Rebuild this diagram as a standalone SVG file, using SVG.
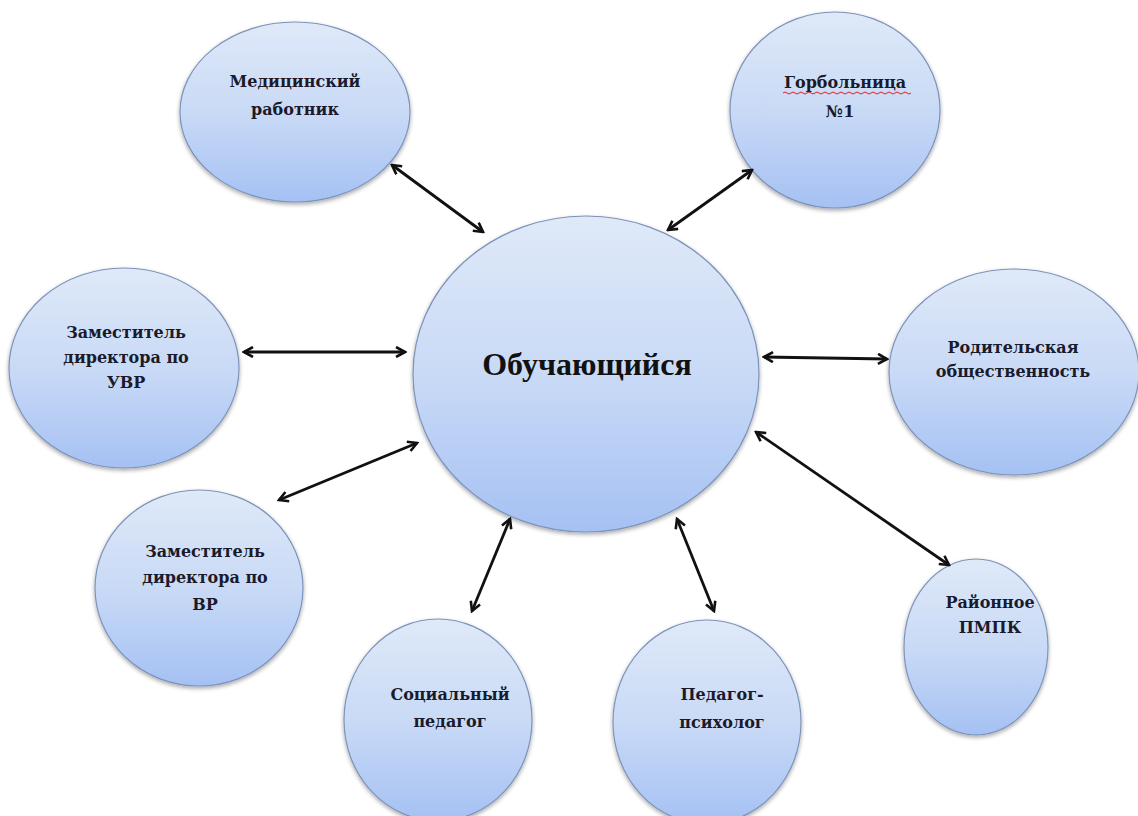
<svg xmlns="http://www.w3.org/2000/svg" width="1138" height="816" viewBox="0 0 1138 816">
<defs>
<linearGradient id="g" x1="0" y1="0" x2="0" y2="1">
<stop offset="0" stop-color="#dfe9f8"/>
<stop offset="0.5" stop-color="#c9daf6"/>
<stop offset="1" stop-color="#a5c1f3"/>
</linearGradient>
<filter id="sh" x="-10%" y="-10%" width="120%" height="125%">
<feGaussianBlur in="SourceAlpha" stdDeviation="2"/>
<feOffset dx="0" dy="2" result="b"/>
<feComponentTransfer><feFuncA type="linear" slope="0.35"/></feComponentTransfer>
<feMerge><feMergeNode/><feMergeNode in="SourceGraphic"/></feMerge>
</filter>
<marker id="ah" viewBox="0 0 12 12" refX="10" refY="6" markerWidth="12" markerHeight="12" markerUnits="userSpaceOnUse" orient="auto-start-reverse">
<path d="M1,1 L10,6 L1,11" fill="none" stroke="#111" stroke-width="2.6" stroke-linejoin="miter"/>
</marker>
</defs>
<style>
.n{fill:url(#g);stroke:#7d93bb;stroke-width:1.2;filter:url(#sh)}
.t{font-family:"DejaVu Serif","Liberation Serif",serif;font-weight:bold;font-size:16px;fill:#1a1a2a;text-anchor:middle}
.c{font-family:"Liberation Serif","Times New Roman",serif;font-weight:bold;font-size:32px;fill:#111;text-anchor:middle}
.a{stroke:#111;stroke-width:2.8;fill:none;marker-start:url(#ah);marker-end:url(#ah)}
</style>
<rect width="1138" height="816" fill="#fff"/>
<g id="n-med"><ellipse class="n" cx="295" cy="112" rx="115" ry="90"/>
<text class="t" x="295" y="87">Медицинский</text><text class="t" x="295" y="115">работник</text></g>
<g id="n-gor"><ellipse class="n" cx="835" cy="110" rx="105" ry="98"/>
<text class="t" x="845" y="88">Горбольница</text><text class="t" x="840" y="117">№1</text>
<path d="M783,93 q2,-2 4,0 t4,0 t4,0 t4,0 t4,0 t4,0 t4,0 t4,0 t4,0 t4,0 t4,0 t4,0 t4,0 t4,0 t4,0 t4,0 t4,0 t4,0 t4,0 t4,0 t4,0 t4,0 t4,0 t4,0 t4,0 t4,0 t4,0 t4,0 t4,0 t4,0 t4,0 t4,0" fill="none" stroke="#e02020" stroke-width="1"/></g>
<g id="n-uvr"><ellipse class="n" cx="124" cy="368" rx="115" ry="100"/>
<text class="t" x="126" y="338">Заместитель</text><text class="t" x="126" y="363">директора по</text><text class="t" x="126" y="388">УВР</text></g>
<g id="n-rod"><ellipse class="n" cx="1014" cy="372" rx="125" ry="103"/>
<text class="t" x="1013" y="353">Родительская</text><text class="t" x="1013" y="377">общественность</text></g>
<g id="n-vr"><ellipse class="n" cx="199" cy="588" rx="104" ry="98"/>
<text class="t" x="205" y="557">Заместитель</text><text class="t" x="205" y="583">директора по</text><text class="t" x="205" y="610">ВР</text></g>
<g id="n-soc"><ellipse class="n" cx="438" cy="720" rx="94" ry="101"/>
<text class="t" x="450" y="700">Социальный</text><text class="t" x="450" y="727">педагог</text></g>
<g id="n-psy"><ellipse class="n" cx="707" cy="722" rx="94" ry="102"/>
<text class="t" x="722" y="700">Педагог-</text><text class="t" x="722" y="728">психолог</text></g>
<g id="n-pmpk"><ellipse class="n" cx="976" cy="647" rx="72" ry="88"/>
<text class="t" x="990" y="608">Районное</text><text class="t" x="990" y="633">ПМПК</text></g>
<g id="n-center"><ellipse class="n" cx="586" cy="374" rx="173" ry="158"/>
<text class="c" x="587" y="375">Обучающийся</text></g>
<g id="connectors">
<line class="a" x1="392" y1="165" x2="483" y2="232"/>
<line class="a" x1="752" y1="170" x2="668" y2="230"/>
<line class="a" x1="244" y1="352" x2="405" y2="352"/>
<line class="a" x1="764" y1="357" x2="887" y2="359"/>
<line class="a" x1="279" y1="500" x2="417" y2="443"/>
<line class="a" x1="472" y1="611" x2="510" y2="519"/>
<line class="a" x1="677" y1="519" x2="714" y2="611"/>
<line class="a" x1="756" y1="432" x2="949" y2="565"/>
</g>
</svg>
